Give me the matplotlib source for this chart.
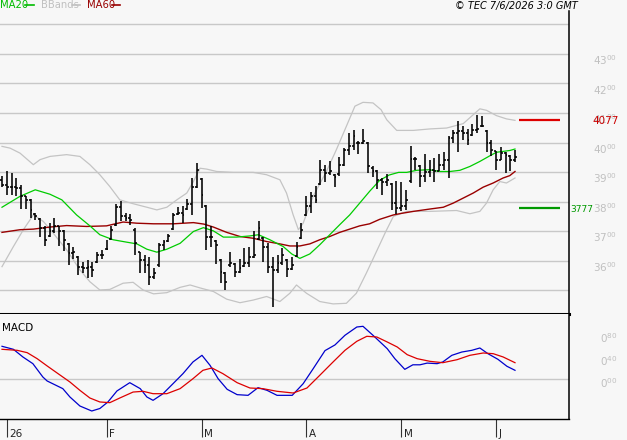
import numpy as np
import matplotlib
matplotlib.use("Agg")
import matplotlib.pyplot as plt
from matplotlib.collections import LineCollection
from matplotlib.lines import Line2D

# ---------------- data ----------------
opens = [3874,3857,3849,3849,3846,3818,3806,3758,3740,3710,
         3685,3699,3716,3699,3655,3625,3612,3580,3575,3580,
         3595,3620,3640,3675,3720,3781,3752,3744,3705,3628,
         3603,3586,3546,3585,3654,3668,3708,3757,3761,3776,
         3793,3851,3876,3785,3682,3668,3602,3560,3584,3590,
         3563,3583,3592,3614,3675,3678,3648,3580,3569,3592,
         3602,3571,3615,3676,3755,3784,3818,3860,3906,3897,
         3890,3892,3925,3976,3987,4000,3998,3998,3915,3902,
         3874,3868,3860,3795,3778,3784,3870,3944,3920,3888,
         3899,3908,3905,3925,3940,4015,4032,4038,4032,4024,
         4041,4056,4040,3998,3970,3942,3964,3956,3942]
highs = [3888,3905,3897,3880,3857,3820,3809,3761,3744,3716,
         3727,3744,3718,3705,3659,3648,3616,3597,3603,3597,
         3628,3637,3671,3718,3793,3801,3761,3759,3710,3631,
         3620,3614,3575,3659,3671,3691,3761,3781,3784,3809,
         3880,3931,3880,3789,3716,3671,3605,3563,3631,3592,
         3605,3642,3648,3699,3733,3682,3659,3614,3620,3642,
         3605,3614,3662,3727,3818,3831,3854,3942,3925,3936,
         3894,3951,3981,4032,4044,4004,4046,4001,3919,3906,
         3880,3894,3863,3871,3865,3838,3989,3951,3925,3962,
         3940,3948,3962,3967,4023,4044,4072,4055,4046,4064,
         4094,4091,4044,4010,3973,3985,3967,3959,3976]
lows = [3851,3821,3823,3818,3775,3775,3744,3738,3682,3650,
        3682,3693,3650,3634,3586,3605,3552,3558,3541,3546,
        3592,3605,3637,3671,3716,3733,3733,3722,3620,3560,
        3558,3518,3537,3580,3637,3665,3705,3755,3729,3772,
        3755,3846,3778,3637,3648,3589,3524,3501,3580,3546,
        3558,3580,3580,3608,3671,3597,3558,3445,3558,3586,
        3546,3567,3612,3673,3750,3761,3795,3857,3868,3891,
        3849,3888,3922,3959,3976,3962,3996,3897,3885,3842,
        3823,3854,3772,3759,3767,3772,3863,3908,3851,3868,
        3885,3868,3902,3908,3880,3998,3967,4010,3993,4021,
        4032,4053,3967,3955,3908,3940,3897,3902,3934]
closes = [3857,3849,3849,3846,3818,3806,3772,3752,3710,3671,
          3699,3716,3699,3671,3625,3631,3580,3575,3580,3567,
          3620,3620,3639,3705,3781,3752,3744,3738,3659,3603,
          3586,3546,3558,3654,3662,3684,3755,3761,3755,3793,
          3851,3908,3823,3682,3680,3654,3563,3529,3594,3563,
          3575,3592,3614,3620,3710,3648,3580,3569,3592,3620,
          3571,3586,3648,3705,3784,3818,3806,3906,3897,3902,
          3885,3925,3976,3987,4023,3998,4004,3919,3902,3874,
          3868,3874,3795,3778,3784,3806,3944,3944,3888,3899,
          3908,3902,3925,3940,4015,4032,4038,4032,4010,4041,
          4046,4057,3998,3976,3942,3964,3959,3942,3951]

ma20_x = [0,3.8,7,10.1,12.6,15.7,18.5,20.6,23.4,26.2,28.4,30.5,32.6,34.7,37.5,40.3,42.4,44.5,46.6,49.4,
          52.2,54,56.4,59.2,61,62.7,64.8,66.9,69,71.1,73.2,75.3,77.4,79.5,81.5,83.5,85.2,87.3,89.9,92.2,
          94.3,96.4,98.5,100.6,102.7,104.1,105.5,106.9,108]
ma20_y = [3781,3818,3840,3825,3806,3755,3718,3688,3671,3663,3657,3639,3629,3639,3659,3699,3712,3701,3680,3680,
          3684,3688,3671,3648,3623,3608,3623,3654,3688,3722,3755,3795,3835,3872,3890,3899,3899,3906,3908,3902,
          3902,3906,3919,3936,3955,3967,3970,3973,3978]

ma60_x = [0,3.8,6.6,10.1,13.6,17.8,22,25.5,28.4,31.9,36.1,40.3,42.5,44.5,47.3,50.1,52.9,55.7,58.5,60.6,
          62.7,64.8,66.9,69,71.1,73.2,75.3,77.4,79.5,82.4,84,86.6,90.1,92.9,95,97.1,99.2,101.3,103.4,105.5,
          106.9,108]
ma60_y = [3696,3705,3707,3714,3719,3716,3718,3731,3727,3725,3725,3729,3724,3714,3696,3682,3676,3665,3657,3650,
          3650,3657,3671,3682,3696,3707,3718,3725,3740,3755,3760,3767,3775,3781,3795,3812,3829,3849,3863,3880,
          3888,3902]

bbup_x = [0,1.7,3.8,6.6,8,10.1,13.6,16.4,18.5,20.6,22.7,24.8,27.6,30.5,32.6,34.7,36.8,38.9,40.3,41.7,
          43.1,45.2,48.7,52.9,55.7,58.5,59.9,61.3,62.4,63.4,65.5,68.3,70.4,72.5,74.3,76,78.1,79.8,81,83.1,
          86.6,90.1,93.6,97.1,99.2,100.6,102,104.1,106.2,108]
bbup_y = [3987,3981,3964,3925,3942,3953,3959,3953,3925,3891,3851,3806,3793,3781,3772,3781,3806,3829,3868,3913,
          3910,3902,3899,3899,3891,3874,3829,3755,3705,3727,3818,3902,3976,4055,4123,4136,4134,4111,4077,4041,
          4041,4046,4049,4064,4094,4114,4109,4091,4080,4075]

bblo_x = [0,2.4,4.5,6.6,8.7,10.8,13.6,16.4,18.5,20.6,22.7,25.5,27.6,29.7,31.9,34.7,37.5,39.6,41.7,44.5,
          47.3,50.1,52.9,55.7,58.5,60.6,62,64.1,66.9,69.7,72.5,74.6,76.7,78.8,80.8,82.4,85.2,90.1,95.7,98.5,
          100.6,102,103.4,104.8,106.2,108]
bblo_y = [3580,3648,3705,3755,3733,3693,3637,3569,3529,3501,3503,3524,3527,3501,3488,3492,3510,3518,3508,3496,
          3470,3458,3467,3479,3462,3490,3518,3490,3462,3454,3456,3490,3558,3630,3699,3750,3767,3767,3770,3759,
          3767,3795,3840,3868,3863,3880]

macd_x = [0,2.4,4.4,6.5,8.6,9.5,12.8,14.3,16.4,18.9,20.6,22.3,24.2,26.9,29.1,30.5,31.8,33.9,36,38.1,
          40.2,42.1,43.8,45.5,47.4,49.5,51.8,53.9,55.8,57.9,61.1,63.4,65.5,68,70.1,72.2,74.7,76,78.1,81.1,
          82.7,84.8,86.5,88,89.5,91.6,92.8,94.7,96.8,98.9,100.6,102.3,104.4,106.3,108]
macd_y = [0.576,0.523,0.388,0.27,0.035,-0.035,-0.17,-0.317,-0.476,-0.564,-0.52,-0.405,-0.211,-0.065,-0.17,-0.317,-0.376,-0.259,-0.083,0.094,
          0.3,0.417,0.24,0.005,-0.182,-0.276,-0.288,-0.153,-0.2,-0.288,-0.288,-0.083,0.18,0.5,0.6,0.77,0.916,0.928,0.77,0.534,
          0.358,0.17,0.25,0.25,0.28,0.27,0.3,0.417,0.475,0.505,0.546,0.446,0.347,0.224,0.153]

sig_x = [0,3.2,5.3,7.4,9.5,11.8,14.3,16.4,18.5,20.6,22.7,24.8,27.6,29.7,31.8,34.7,37.5,40.2,42.3,44.2,
         46.5,49.5,52.2,54.9,57.9,61.3,64.2,66.9,69.7,72.2,74.7,76.8,78.9,81.1,83.2,85.3,87.4,90.1,92.8,95.8,
         98.5,101.3,103.4,105.5,108]
sig_y = [0.523,0.505,0.464,0.358,0.23,0.094,-0.053,-0.2,-0.335,-0.405,-0.417,-0.335,-0.23,-0.217,-0.259,-0.259,-0.17,0.005,0.153,0.194,
         0.094,-0.065,-0.159,-0.17,-0.217,-0.247,-0.159,0.065,0.3,0.505,0.664,0.752,0.74,0.652,0.564,0.429,0.358,0.311,0.287,0.34,
         0.417,0.458,0.446,0.388,0.287]

month_idx = [1, 22, 42, 64, 84, 104]
month_labels = ["26", "F", "M", "A", "M", "J"]
price_levels = [4300, 4200, 4100, 4000, 3900, 3800, 3700, 3600]
grid_levels = [4400, 4300, 4200, 4100, 4000, 3900, 3800, 3700, 3600, 3500]
macd_levels = [0.80, 0.40, 0.00]
target_hi = 4077
target_lo = 3777

# ---------------- figure ----------------
W, H = 627, 440
BG = "#f7f7f7"
fig = plt.figure(figsize=(W / 100, H / 100), dpi=100)
fig.patch.set_facecolor(BG)


def px_rect(x0, y0, x1, y1):
    return [x0 / W, 1 - y1 / H, (x1 - x0) / W, (y1 - y0) / H]


ax = fig.add_axes(px_rect(0, 11, 569, 314))
mx = fig.add_axes(px_rect(0, 314, 569, 419))
XL = (-2 / 4.75, 567 / 4.75)
for a in (ax, mx):
    a.set_facecolor(BG)
    a.set_xlim(*XL)
    a.spines["left"].set_visible(False)
    a.spines["top"].set_visible(False)
    a.spines["right"].set_linewidth(1.1)
    a.spines["right"].set_color("black")
ax.spines["bottom"].set_linewidth(2.2)
ax.spines["bottom"].set_color("black")
mx.spines["bottom"].set_linewidth(1.0)
mx.spines["bottom"].set_color("black")

ax.set_ylim(3419.8, 4445)
mx.set_ylim(-0.705, 1.145)

# grid
ax.set_yticks(grid_levels)
ax.yaxis.grid(True, color="#c8c8c8", lw=1.0)
ax.tick_params(axis="y", length=0, labelleft=False, labelright=False)
ax.tick_params(axis="x", length=0, labelbottom=False)
ax.set_xticks([])
mx.set_yticks([0])
mx.yaxis.grid(True, color="#c8c8c8", lw=1.0)
mx.tick_params(axis="y", length=0, labelleft=False)
mx.set_xticks(month_idx)
mx.tick_params(axis="x", length=13, width=0.8, color="#333333", direction="out", labelbottom=False)
ax.set_axisbelow(True)
mx.set_axisbelow(True)

# indicators
ax.plot(bbup_x, bbup_y, color="#c4c4c4", lw=0.9, zorder=2)
ax.plot(bblo_x, bblo_y, color="#c4c4c4", lw=0.9, zorder=2)
ax.plot(ma60_x, ma60_y, color="#990000", lw=1.0, zorder=3)
ax.plot(ma20_x, ma20_y, color="#00cc00", lw=0.9, zorder=3)

# OHLC bars
segs = []
tw = 0.42
for i, (o, h, l, c) in enumerate(zip(opens, highs, lows, closes)):
    segs.append([(i, l), (i, h)])
    segs.append([(i - tw, o), (i, o)])
    segs.append([(i, c), (i + tw, c)])
ax.add_collection(LineCollection(segs, colors="black", linewidths=1.15, zorder=4))

# targets
ax.plot([108.8, 117.5], [target_hi, target_hi], color="#dd0000", lw=1.6, zorder=3, solid_capstyle="butt")
ax.plot([108.8, 117.5], [target_lo, target_lo], color="#009900", lw=1.6, zorder=3, solid_capstyle="butt")

# MACD
mx.plot(macd_x, macd_y, color="#0000cc", lw=0.9)
mx.plot(sig_x, sig_y, color="#dd0000", lw=0.9)

# right labels
lab_col = "#c0c0c0"
for v in price_levels:
    s = str(v)
    ax.annotate(r"$\mathregular{%s^{%s}}$" % (s[:2], s[2:]), xy=(593, v),
                xycoords=("figure pixels", "data"), xytext=(0, -4.6), textcoords="offset points",
                ha="left", va="center", fontsize=7.5, color=lab_col, annotation_clip=False)
for v in macd_levels:
    s = "%.2f" % v
    mx.annotate(r"$\mathregular{%s^{%s}}$" % (s[0], s[2:]), xy=(600, v),
                xycoords=("figure pixels", "data"), xytext=(0, -3.3), textcoords="offset points",
                ha="left", va="center", fontsize=7.5, color=lab_col, annotation_clip=False)

ax.annotate(str(target_hi), xy=(592, target_hi), xycoords=("figure pixels", "data"),
            xytext=(0, -0.8), textcoords="offset points", ha="left", va="center",
            fontsize=7.5, color="#cc0000", annotation_clip=False, zorder=6)
ax.annotate(str(target_lo), xy=(570, target_lo), xycoords=("figure pixels", "data"),
            xytext=(0, -1.0), textcoords="offset points", ha="left", va="center",
            fontsize=6.6, color="#009900", annotation_clip=False, zorder=6)

# month labels
for xi, lab in zip(month_idx, month_labels):
    mx.annotate(lab, xy=(xi, 0), xycoords=("data", "axes fraction"), xytext=(2.0, -11),
                textcoords="offset points", ha="left", va="center", fontsize=7.5,
                color="#222222", annotation_clip=False)

# header / legend
def ftxt(x, y, s, **kw):
    fig.text(x / W, 1 - y / H, s, va="center", **kw)


def fline(x0, x1, y, color):
    fig.add_artist(Line2D([x0 / W, x1 / W], [1 - y / H, 1 - y / H], color=color, lw=1.2,
                          transform=fig.transFigure))


ftxt(0, 5.5, "MA20", fontsize=7.2, color="#00bb00")
fline(25, 34, 5.5, "#00bb00")
ftxt(41, 5.5, "BBands", fontsize=7.2, color="#c0c0c0")
fline(72, 80, 5.5, "#c0c0c0")
ftxt(87, 5.5, "MA60", fontsize=7.2, color="#990000")
fline(112, 120, 5.5, "#990000")
ftxt(455, 5.5, "\u00a9 TEC 7/6/2026 3:0 GMT", fontsize=7.0, style="italic", color="black")
ftxt(2, 328, "MACD", fontsize=7.5, color="black")

fig.savefig("out.png", dpi=100, facecolor=BG)
